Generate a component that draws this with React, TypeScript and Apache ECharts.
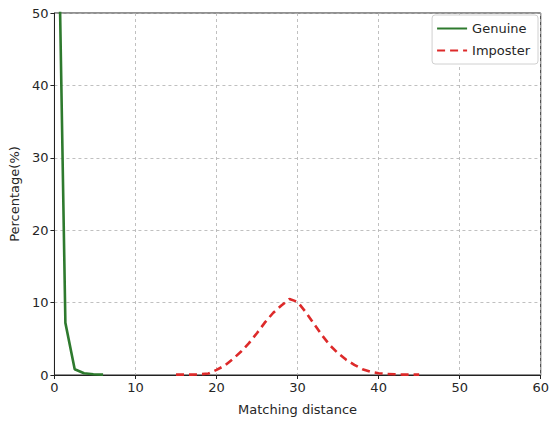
import React, { useEffect, useRef } from "react";
import * as echarts from "echarts";

const genuineX = [0.2, 1.35, 2.5, 3.65, 4.8, 6.0];
const genuineY = [83, 7.2, 0.8, 0.25, 0.1, 0.05];

const imposterX = [15, 16, 17, 18, 19, 20, 21, 22, 23, 24, 25, 26, 27, 28, 29, 30, 31, 32, 33, 34, 35, 36, 37, 38, 39, 40, 41, 42, 43, 44, 45];
const imposterY = [0.05, 0.05, 0.05, 0.1, 0.2, 0.7, 1.3, 2.2, 3.2, 4.4, 5.8, 7.3, 8.6, 9.6, 10.5, 10.1, 8.7, 7.1, 5.5, 4.1, 3.0, 2.1, 1.4, 0.8, 0.45, 0.25, 0.15, 0.1, 0.05, 0.05, 0.05];

const seriesNames = ["Genuine", "Imposter"];
const xTitle = "Matching distance";
const yTitle = "Percentage(%)";

const FONT = "DejaVu Sans";

export default function App() {
  const ref = useRef<HTMLDivElement>(null);
  useEffect(() => {
    if (!ref.current) return;
    const chart = echarts.init(ref.current, undefined, { renderer: "svg" });
    const gridLine = { show: true, lineStyle: { color: "#b0b0b0", type: [3, 3] as any, width: 0.8 } };
    chart.setOption({
      animation: false,
      backgroundColor: "#fff",
      grid: {
        left: 54,
        right: 8,
        top: 13,
        bottom: 46,
        show: true,
        borderColor: "#222",
        borderWidth: 1,
        backgroundColor: "transparent",
      },
      legend: {
        right: 14,
        top: 15,
        orient: "vertical",
        itemWidth: 30,
        itemHeight: 10,
        itemGap: 9,
        padding: [7, 8, 7, 4],
        borderColor: "#d0d0d0",
        borderWidth: 1,
        borderRadius: 3,
        backgroundColor: "#fff",
        itemStyle: { opacity: 0 },
        textStyle: { fontFamily: FONT, fontSize: 13, color: "#262626" },
        data: seriesNames,
      },
      xAxis: {
        type: "value",
        min: 0,
        max: 60,
        interval: 10,
        name: xTitle,
        nameLocation: "middle",
        nameGap: 28,
        nameTextStyle: { fontFamily: FONT, fontSize: 13, color: "#262626" },
        axisLine: { show: true, onZero: false, lineStyle: { color: "#222", width: 1 } },
        axisTick: { show: true, inside: false, length: 4, lineStyle: { color: "#222" } },
        axisLabel: { fontFamily: FONT, fontSize: 13, color: "#262626", margin: 6 },
        splitLine: gridLine,
      },
      yAxis: {
        type: "value",
        min: 0,
        max: 50,
        interval: 10,
        name: yTitle,
        nameLocation: "middle",
        nameGap: 31,
        nameTextStyle: { fontFamily: FONT, fontSize: 13, color: "#262626" },
        axisLine: { show: true, onZero: false, lineStyle: { color: "#222", width: 1 } },
        axisTick: { show: true, inside: false, length: 4, lineStyle: { color: "#222" } },
        axisLabel: { fontFamily: FONT, fontSize: 13, color: "#262626", margin: 6 },
        splitLine: gridLine,
      },
      series: [
        {
          name: seriesNames[0],
          type: "line",
          symbol: "none",
          clip: true,
          data: genuineX.map((x, i) => [x, genuineY[i]]),
          lineStyle: { color: "#2e7a2e", width: 2.6 },
          itemStyle: { color: "#2e7a2e" },
          z: 3,
        },
        {
          name: seriesNames[1],
          type: "line",
          symbol: "none",
          clip: true,
          data: imposterX.map((x, i) => [x, imposterY[i]]),
          lineStyle: { color: "#dd2a2a", width: 2.6, type: [8, 5] as any },
          itemStyle: { color: "#dd2a2a" },
          z: 3,
        },
      ],
    });
    return () => chart.dispose();
  }, []);
  return <div ref={ref} style={{ width: 552, height: 421, position: "absolute", left: 0, top: 0 }} />;
}
